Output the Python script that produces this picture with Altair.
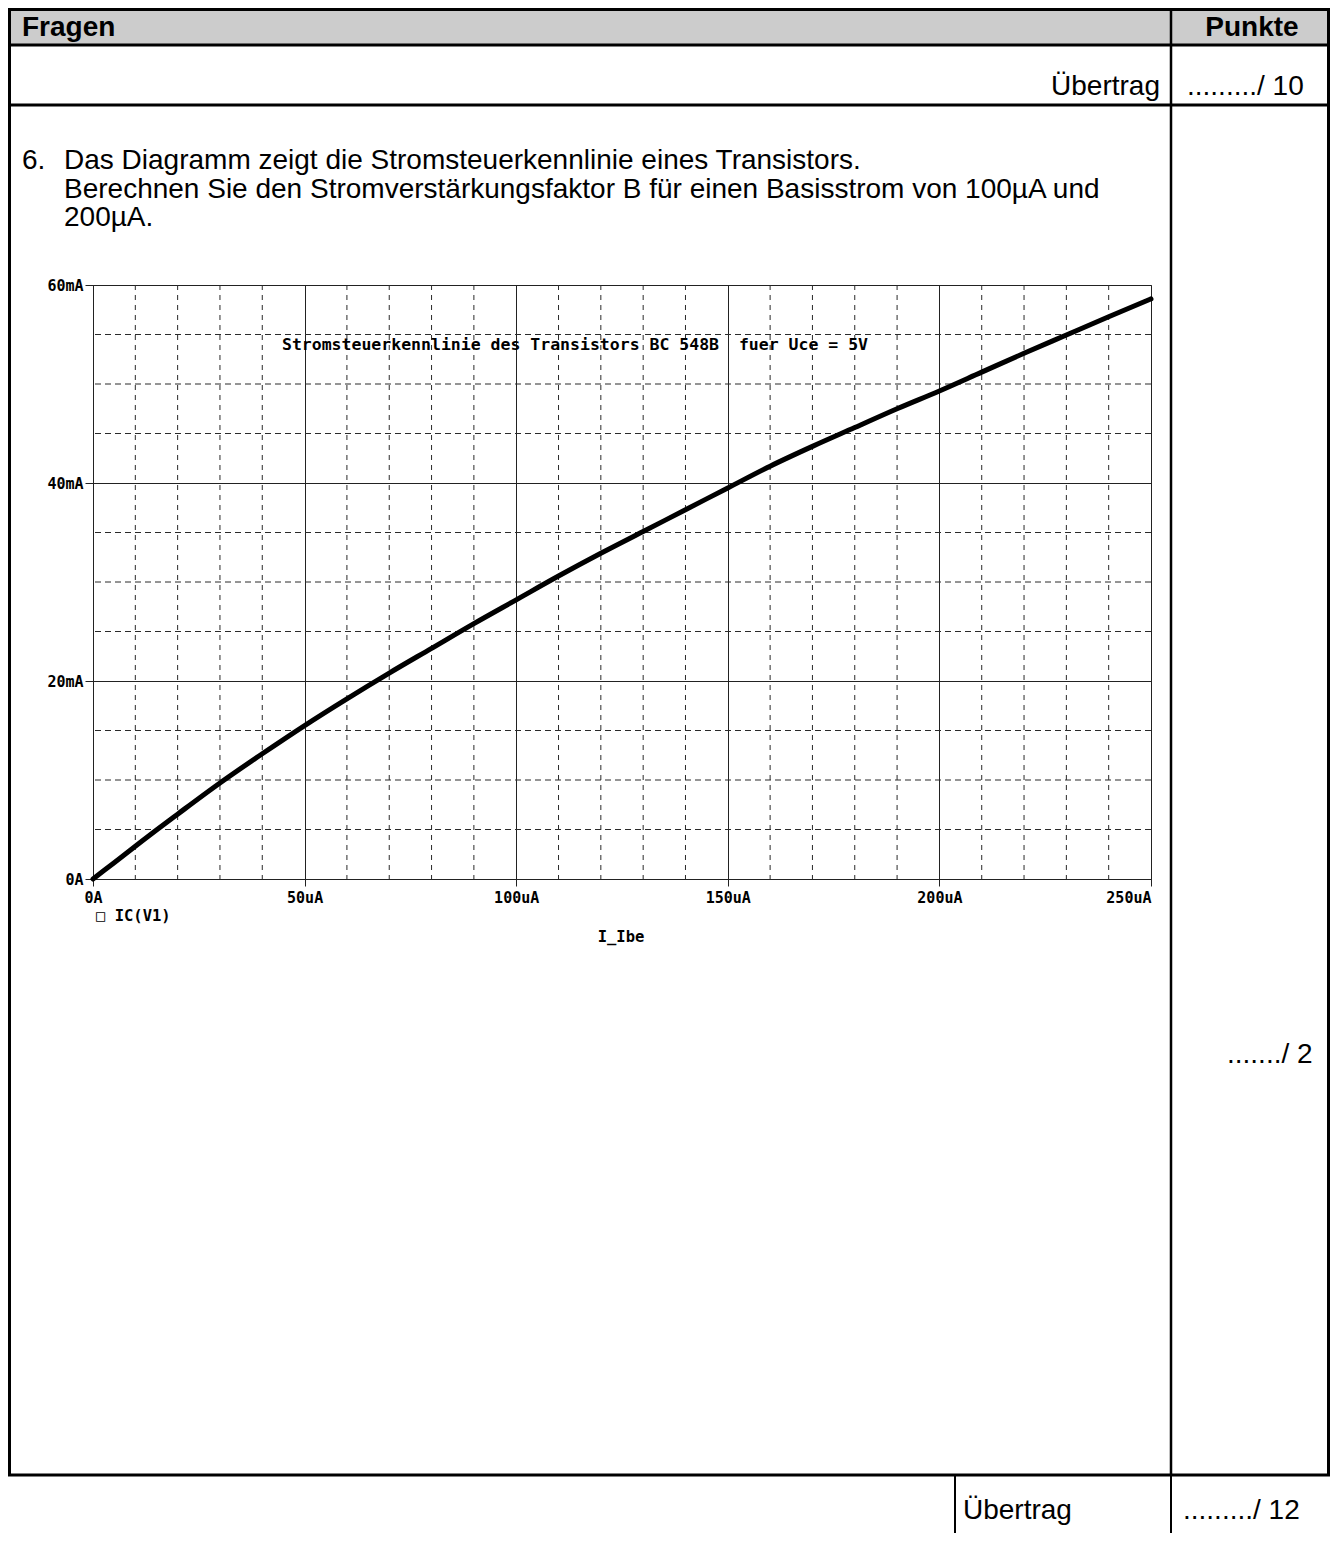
import altair as alt
import pandas as pd

# ---- chart data ----
ibe_uA = [0, 5, 10, 15, 20, 30, 40, 50, 60, 70, 80, 90, 100, 110, 120, 130, 140,
          150, 160, 170, 180, 190, 200, 210, 220, 230, 240, 250]
ic_mA = [0, 1.65, 3.3, 4.95, 6.55, 9.7, 12.65, 15.5, 18.2, 20.8, 23.3, 25.8, 28.2,
         30.6, 32.9, 35.1, 37.3, 39.5, 41.7, 43.7, 45.6, 47.5, 49.3, 51.2, 53.1,
         54.95, 56.8, 58.6]
x_major = [0, 50, 100, 150, 200, 250]
y_major = [0, 20, 40, 60]
x_minor = [10, 20, 30, 40, 60, 70, 80, 90, 110, 120, 130, 140, 160, 170, 180, 190,
           210, 220, 230, 240]
y_minor = [5, 10, 15, 25, 30, 35, 45, 50, 55]

chart_title = "Stromsteuerkennlinie des Transistors BC 548B \u00a0fuer Uce = 5V"
legend_text = "\u25a1 IC(V1)"
x_title = "I_Ibe"

q_num = "6."
q_lines = [
    "Das Diagramm zeigt die Stromsteuerkennlinie eines Transistors.",
    "Berechnen Sie den Stromverstärkungsfaktor B für einen Basisstrom von 100µA und",
    "200µA.",
]

# ---- layout (page pixel coordinates -> plot-relative) ----
OX, OY = 93, 285          # page position of plot origin (top-left)
W, H = 1058, 594


def px(v):
    return v - OX


def py(v):
    return v - OY


one = pd.DataFrame({"d": [0]})
SANS = "Liberation Sans"
MONO = "DejaVu Sans Mono"


def hline(x1, x2, y, w):
    return alt.Chart(one).mark_rule(color="black", strokeWidth=w).encode(
        x=alt.value(px(x1)), x2=alt.value(px(x2)), y=alt.value(py(y)))


def vline(x, y1, y2, w):
    return alt.Chart(one).mark_rule(color="black", strokeWidth=w).encode(
        x=alt.value(px(x)), y=alt.value(py(y1)), y2=alt.value(py(y2)))


def txt(s, x, y, size=28, bold=False, align="left", font=SANS):
    return alt.Chart(one).mark_text(
        text=s, align=align, baseline="middle", font=font, fontSize=size,
        fontWeight="bold" if bold else "normal", color="black"
    ).encode(x=alt.value(px(x)), y=alt.value(py(y)))


header = alt.Chart(one).mark_rect(color="#cccccc").encode(
    x=alt.value(px(8)), x2=alt.value(px(1330)),
    y=alt.value(py(8)), y2=alt.value(py(45)))

xscale = alt.Scale(domain=[0, 250], nice=False, zero=True)
yscale = alt.Scale(domain=[0, 60], nice=False, zero=True)

x_axis = alt.Axis(
    values=x_major, title=None, grid=True, gridColor="#222222", gridWidth=1,
    labelExpr="datum.value == 0 ? '0A' : datum.value + 'uA'",
    labelAlign={"expr": "datum.value == 250 ? 'right' : 'center'"},
    labelFlush=False, labelOverlap=False, labelFont=MONO, labelFontWeight="bold",
    labelFontSize=15, labelColor="black", labelPadding=4,
    tickSize=7, tickColor="#222222", domainColor="#222222", domainWidth=1)
y_axis = alt.Axis(
    values=y_major, title=None, grid=True, gridColor="#222222", gridWidth=1,
    labelExpr="datum.value == 0 ? '0A' : datum.value + 'mA'",
    labelOverlap=False, labelFont=MONO, labelFontWeight="bold",
    labelFontSize=15, labelColor="black", labelPadding=2,
    tickSize=8, tickColor="#222222", domainColor="#222222", domainWidth=1)

vminor = alt.Chart(pd.DataFrame({"v": x_minor})).mark_rule(
    color="#2a2a2a", strokeWidth=1, strokeDash=[5, 5]
).encode(x=alt.X("v:Q", scale=xscale, axis=x_axis))

hminor = alt.Chart(pd.DataFrame({"v": y_minor})).mark_rule(
    color="#2a2a2a", strokeWidth=1, strokeDash=[6, 4]
).encode(y=alt.Y("v:Q", scale=yscale, axis=y_axis))

curve = alt.Chart(pd.DataFrame({"ibe": ibe_uA, "ic": ic_mA})).mark_line(
    color="black", strokeWidth=5, strokeCap="round", strokeJoin="round",
    interpolate="monotone"
).encode(
    x=alt.X("ibe:Q", scale=xscale, axis=x_axis),
    y=alt.Y("ic:Q", scale=yscale, axis=y_axis),
)

texts = [
    txt("Fragen", 22, 28, bold=True),
    txt("Punkte", 1252, 28, bold=True, align="center"),
    txt("Übertrag", 1160, 87, align="right"),
    txt("........./ 10", 1187, 87),
    txt(q_num, 22, 161),
    txt(q_lines[0], 64, 161),
    txt(q_lines[1], 64, 190),
    txt(q_lines[2], 64, 218),
    txt("......./ 2", 1227, 1055),
    txt("Übertrag", 963, 1511),
    txt("........./ 12", 1183, 1511),
    txt(chart_title, 575, 345, size=16.5, bold=True, align="center", font=MONO),
    txt(legend_text, 96, 916, size=15.5, bold=True, font=MONO),
    txt(x_title, 621, 937, size=15.5, bold=True, align="center", font=MONO),
]

frame = [
    hline(8, 1330, 9.5, 3),
    hline(8, 1330, 45, 3),
    hline(8, 1330, 105, 3),
    hline(8, 1330, 1475, 3),
    vline(9.5, 8, 1475, 3),
    vline(1328.5, 8, 1475, 3),
    vline(1171, 8, 1475, 2.5),
    vline(955, 1475, 1533, 2),
    vline(1171, 1475, 1533, 2),
]

chart = alt.layer(header, vminor, hminor, curve, *texts, *frame).properties(
    width=W, height=H,
    autosize=alt.AutoSizeParams(type="none"),
    padding={"left": OX - 8, "top": OY - 8, "right": 1322 - (OX - 8) - W,
             "bottom": 1525 - (OY - 8) - H},
    background="white",
).configure_view(stroke="#555555", strokeWidth=1)

chart.save("out.html", embed_options={"renderer": "svg", "actions": False})
